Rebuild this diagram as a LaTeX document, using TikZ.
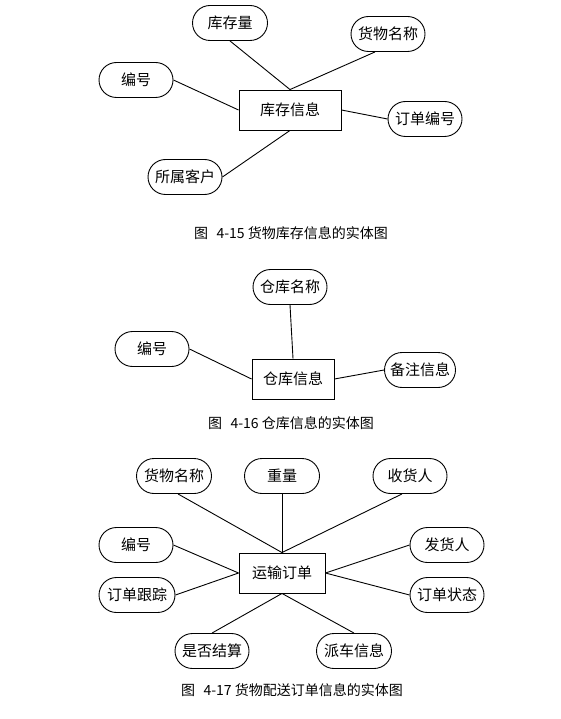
\documentclass[tikz,border=0pt]{standalone}
\usepackage{fontspec}
\setmainfont{Noto Sans CJK SC}
\usetikzlibrary{shapes.misc}
\begin{document}
\begin{tikzpicture}[x=1pt, y=-1pt, line width=0.9pt,
    attr/.style={draw, rounded rectangle, minimum width=74pt, minimum height=35pt, inner sep=0pt, font=\fontsize{15}{17}\selectfont},
    entity/.style={draw, rectangle, minimum height=40pt, inner sep=0pt, font=\fontsize{15}{17}\selectfont},
    caption/.style={font=\fontsize{14}{16}\selectfont}]
    \useasboundingbox (0,0) rectangle (561,719);

    \node (kc) [entity, minimum width=102pt] at (290,110) {库存信息};
    \node (kcl) [attr, minimum width=75pt] at (230,23) {库存量};
    \node (hwmc1) [attr] at (388,34) {货物名称};
    \node (bh1) [attr] at (136,80) {编号};
    \node (ddbh) [attr] at (425,119) {订单编号};
    \node (sskh) [attr] at (185,177) {所属客户};

    \draw (kcl.south) -- (kc.north);
    \draw ([xshift=-13pt]hwmc1.south) -- (kc.north);
    \draw (bh1.east) -- (kc.west);
    \draw (kc.east) -- (ddbh.west);
    \draw (sskh.east) -- (kc.south);

    \node (cap1) [caption] at (291,233) {图\hspace{0.6em}4-15 货物库存信息的实体图};

    \node (ck) [entity, minimum width=82pt] at (293,379) {仓库信息};
    \node (ckmc) [attr] at (290,287) {仓库名称};
    \node (bh2) [attr] at (152,349) {编号};
    \node (bzxx) [attr, minimum width=71pt] at (420,370) {备注信息};

    \draw (ckmc.south) -- (ck.north);
    \draw (bh2.east) -- (ck.west);
    \draw (ck.east) -- (bzxx.west);

    \node (cap2) [caption] at (291,423) {图\hspace{0.6em}4-16 仓库信息的实体图};

    \node (ysdd) [entity, minimum width=86pt] at (282,573) {运输订单};
    \node (hwmc2) [attr, minimum width=75pt] at (174,476) {货物名称};
    \node (zl) [attr, minimum width=75pt] at (282,476) {重量};
    \node (shr) [attr] at (410,476) {收货人};
    \node (bh3) [attr] at (136,545) {编号};
    \node (fhr) [attr] at (447,545) {发货人};
    \node (ddgz) [attr, minimum width=76pt] at (137,595) {订单跟踪};
    \node (ddzt) [attr] at (447,595) {订单状态};
    \node (sfjs) [attr] at (212,651) {是否结算};
    \node (pcxx) [attr, minimum width=75pt] at (354,651) {派车信息};

    \draw ([xshift=4pt]hwmc2.south) -- (ysdd.north);
    \draw (zl.south) -- (ysdd.north);
    \draw ([xshift=-8pt]shr.south) -- (ysdd.north);
    \draw (bh3.east) -- (ysdd.west);
    \draw (ddgz.east) -- (ysdd.west);
    \draw (fhr.west) -- (ysdd.east);
    \draw (ddzt.west) -- (ysdd.east);
    \draw (sfjs.north) -- (ysdd.south);
    \draw (pcxx.north) -- (ysdd.south);

    \node (cap3) [caption] at (292,690) {图\hspace{0.6em}4-17 货物配送订单信息的实体图};
\end{tikzpicture}
\end{document}
